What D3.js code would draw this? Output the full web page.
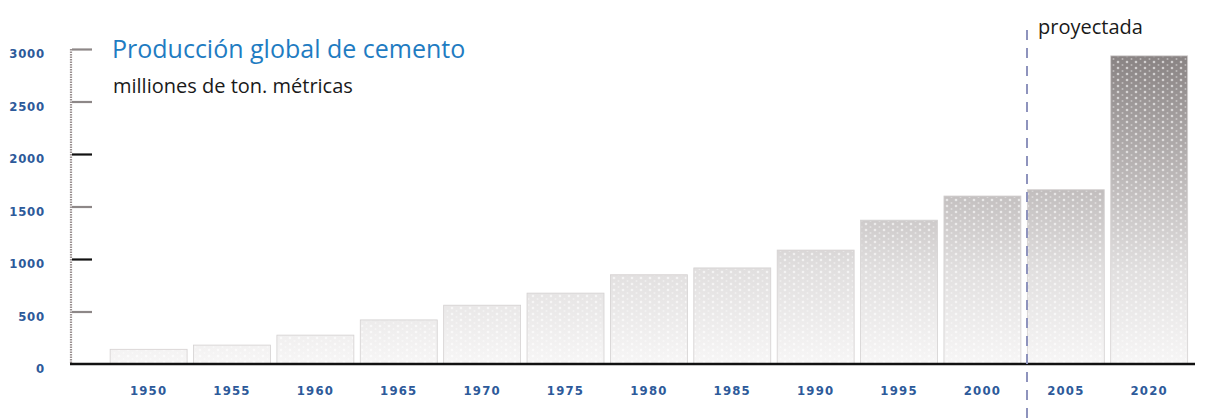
<!DOCTYPE html>
<html>
<head>
<meta charset="utf-8">
<script src="https://cdn.jsdelivr.net/npm/d3@7"></script>
<style>
  html, body { margin: 0; padding: 0; background: #fff; }
  svg { display: block; }
</style>
</head>
<body>
<svg id="chart" width="1209" height="418"></svg>
<script>
const categories = ["1950","1955","1960","1965","1970","1975","1980","1985","1990","1995","2000","2005","2020"];
const values = [140, 180, 275, 420, 560, 675, 850, 915, 1085, 1370, 1600, 1660, 2935];
const yTicks = [0, 500, 1000, 1500, 2000, 2500, 3000];
const title = "Producción global de cemento";
const subtitle = "milliones de ton. métricas";
const projLabel = "proyectada";

const svg = d3.select("#chart");
const y = d3.scaleLinear().domain([0, 3000]).range([364, 49]);
const x = d3.scaleBand().domain(categories).range([106.8, 1191]).paddingInner(0.077).paddingOuter(0.04);

const defs = svg.append("defs");
const grad = defs.append("linearGradient").attr("id", "barGrad")
  .attr("gradientUnits", "userSpaceOnUse")
  .attr("x1", 0).attr("x2", 0).attr("y1", y(0)).attr("y2", y(3000));
grad.append("stop").attr("offset", "0").attr("stop-color", "#f7f6f6");
grad.append("stop").attr("offset", "0.3").attr("stop-color", "#e1dfdf");
grad.append("stop").attr("offset", "0.55").attr("stop-color", "#c2bebe");
grad.append("stop").attr("offset", "1").attr("stop-color", "#868080");

const pat = defs.append("pattern").attr("id", "dots")
  .attr("patternUnits", "userSpaceOnUse").attr("width", 9).attr("height", 6);
pat.append("circle").attr("cx", 2).attr("cy", 2).attr("r", 1.3).attr("fill", "#ffffff").attr("opacity", 0.6);
pat.append("circle").attr("cx", 6.5).attr("cy", 5).attr("r", 1.0).attr("fill", "#ffffff").attr("opacity", 0.4);

// bars
const bars = svg.append("g");
bars.selectAll("rect.bar").data(values).join("rect")
  .attr("class", "bar")
  .attr("x", (d, i) => x(categories[i]))
  .attr("y", d => y(d))
  .attr("width", x.bandwidth())
  .attr("height", d => y(0) - y(d))
  .attr("fill", "url(#barGrad)")
  .attr("stroke", "#d4d1d1").attr("stroke-width", 0.8);
bars.selectAll("rect.dot").data(values).join("rect")
  .attr("class", "dot")
  .attr("x", (d, i) => x(categories[i]) + 1)
  .attr("y", d => y(d) + 1)
  .attr("width", x.bandwidth() - 2)
  .attr("height", d => Math.max(0, y(0) - y(d) - 2))
  .attr("fill", "url(#dots)");

// y axis line
svg.append("line").attr("x1", 71).attr("x2", 71).attr("y1", y(3000)).attr("y2", y(0))
  .attr("stroke", "#9a9090").attr("stroke-width", 2.2).attr("stroke-dasharray", "1.5,1");

// y ticks
const yAxis = d3.axisRight(y).tickValues(yTicks).tickSize(20).tickFormat("");
const yg = svg.append("g").attr("transform", "translate(72,0)").call(yAxis);
yg.select(".domain").remove();
yg.selectAll(".tick line")
  .attr("stroke", d => (d === 1000 || d === 2000) ? "#111" : (d === 0 ? "none" : "#8d8787"))
  .attr("stroke-width", 2.2);

// y labels
svg.append("g").selectAll("text").data(yTicks).join("text")
  .attr("x", 45).attr("y", d => y(d) + 9)
  .attr("text-anchor", "end")
  .attr("font-family", "Liberation Sans Narrow, DejaVu Sans Condensed, Liberation Sans, sans-serif")
  .attr("font-weight", "bold").attr("font-size", 13)
  .attr("letter-spacing", 0.8)
  .attr("fill", "#2d5a9a")
  .text(d => d);

// baseline
svg.append("line").attr("x1", 70).attr("x2", 1195).attr("y1", y(0)).attr("y2", y(0))
  .attr("stroke", "#111").attr("stroke-width", 2.5);

// x labels
const xAxis = d3.axisBottom(x).tickSize(0).tickPadding(0);
const xg = svg.append("g").attr("transform", `translate(0,${y(0)})`).call(xAxis);
xg.select(".domain").remove();
xg.selectAll(".tick text")
  .attr("y", 31)
  .attr("dy", 0)
  .attr("font-family", "Liberation Sans Narrow, DejaVu Sans Condensed, Liberation Sans, sans-serif")
  .attr("font-weight", "bold").attr("font-size", 13)
  .attr("letter-spacing", 1.2)
  .attr("fill", "#2d5a9a");

// projection divider
svg.append("line").attr("x1", 1027).attr("x2", 1027).attr("y1", 30).attr("y2", 418)
  .attr("stroke", "#8e93bd").attr("stroke-width", 2).attr("stroke-dasharray", "10,8");

svg.append("text").attr("x", 1038).attr("y", 34)
  .attr("font-family", "Open Sans, Noto Sans, sans-serif").attr("font-size", 20)
  .attr("fill", "#1a1a1a").text(projLabel);

// titles
svg.append("text").attr("x", 112).attr("y", 58)
  .attr("font-family", "Open Sans, Noto Sans, sans-serif").attr("font-size", 25)
  .attr("fill", "#1f7cc2").text(title);
svg.append("text").attr("x", 113).attr("y", 93)
  .attr("font-family", "Open Sans, Noto Sans, sans-serif").attr("font-size", 20)
  .attr("fill", "#1a1a1a").text(subtitle);
</script>
</body>
</html>
